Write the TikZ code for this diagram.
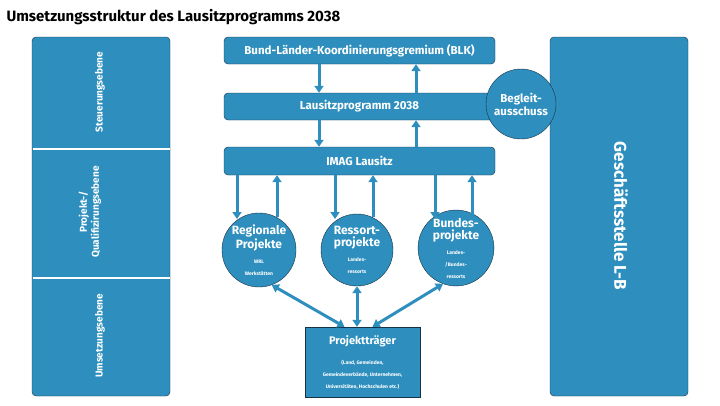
\documentclass[tikz,border=0pt]{standalone}
\usepackage{fontspec}
\setmainfont{Fira Sans}
\usetikzlibrary{shapes, arrows.meta}
\definecolor{lbblue}{RGB}{46,143,190}
\definecolor{lbdark}{RGB}{22,50,70}
\newcommand{\bigtxt}{\fontsize{12}{13}\selectfont}
\newcommand{\tinytxt}{\fontsize{5}{6}\selectfont}
\tikzset{
  block/.style={rectangle, rounded corners=4pt, draw=lbdark, fill=lbblue, text=white, font=\bfseries, inner sep=0pt},
  ring/.style={circle, draw=lbdark, fill=lbblue, text=white, font=\bfseries, align=center, inner sep=0pt},
  flow/.style={draw=lbblue, line width=3pt, -{Triangle[length=7pt,width=9pt]}},
  both/.style={draw=lbblue, line width=3pt, {Triangle[length=7pt,width=9pt]}-{Triangle[length=7pt,width=9pt]}}
}
\begin{document}
\begin{tikzpicture}[x=1pt, y=-1pt]
		\useasboundingbox (0,0) rectangle (720,405);
		\node[anchor=west, font=\bfseries\fontsize{15}{17}\selectfont] (title) at (3,17) {Umsetzungsstruktur des Lausitzprogramms 2038};
		% left column with levels
		\node[block, minimum width=138pt, minimum height=359pt] (levels) at (101,216.5) {};
		\draw[white, line width=2pt] (32.5,149) -- (169.5,149);
		\draw[white, line width=2pt] (32.5,278) -- (169.5,278);
		\node[rotate=90, text=white, font=\bfseries\fontsize{10}{12}\selectfont] (steuer) at (100,92) {Steuerungsebene};
		\node[rotate=90, text=white, align=center, font=\bfseries\fontsize{10}{12}\selectfont] (quali) at (90,212) {Projekt-/\\Qualifizirungsebene};
		\node[rotate=90, text=white, font=\bfseries\fontsize{10}{12}\selectfont] (umsetz) at (100,336) {Umsetzungsebene};
		% right column
		\node[block, minimum width=138pt, minimum height=359pt] (gs) at (619,216.5) {};
		\node[rotate=-90, text=white, font=\bfseries\fontsize{17}{20}\selectfont] (gstext) at (621,216) {Geschäftsstelle L-B};
		% main blocks
		\node[block, minimum width=271pt, minimum height=27pt, font=\bfseries\fontsize{11.5}{13}\selectfont] (blk) at (359.5,50.5) {Bund-Länder-Koordinierungsgremium (BLK)};
		\node[block, minimum width=271pt, minimum height=27pt, font=\bfseries\fontsize{11.5}{13}\selectfont] (lp) at (359.5,106.5) {Lausitzprogramm 2038};
		\node[block, minimum width=271pt, minimum height=28pt, font=\bfseries\fontsize{11.5}{13}\selectfont] (imag) at (359.5,161) {IMAG Lausitz};
		\node[ring, minimum size=70pt, font=\bfseries\fontsize{11.5}{13}\selectfont] (begleit) at (521,104) {Begleit-\\ausschuss};
		% circles
		\node[ring, minimum size=72pt] (regio) at (259,250) {\bigtxt Regionale\\\bigtxt Projekte\\[3pt]\tinytxt WRL\\\tinytxt Werkstätten};
		\node[ring, minimum size=72pt] (ressort) at (357,250) {\bigtxt Ressort-\\\bigtxt projekte\\[3pt]\tinytxt Landes-\\\tinytxt ressorts};
		\node[ring, minimum size=72pt] (bundes) at (456,248) {\bigtxt Bundes-\\\bigtxt projekte\\[3pt]\tinytxt Landes-\\\tinytxt /Bundes-\\\tinytxt ressorts};
		\node[rectangle, draw=lbdark, fill=lbblue, text=white, font=\bfseries, align=center, minimum width=115pt, minimum height=70pt] (pt) at (362.5,362) {\fontsize{11}{13}\selectfont Projektträger\\[8pt]\tinytxt (Land, Gemeinden,\\\tinytxt Gemeindeverbände, Unternehmen,\\\tinytxt Universitäten, Hochschulen etc.)};
		% arrows
		\draw[flow] (blk.south -| 319,0) -- (lp.north -| 319,0);
		\draw[flow] (lp.north -| 416,0) -- (blk.south -| 416,0);
		\draw[flow] (lp.south -| 319,0) -- (imag.north -| 319,0);
		\draw[flow] (imag.north -| 416,0) -- (lp.south -| 416,0);
		\foreach \dn/\up in {237/277, 335/373, 435/472} {
			\draw[flow] (imag.south -| \dn,0) -- (\dn,219);
			\draw[flow] (\up,217) -- (imag.south -| \up,0);
		}
		\draw[both] (regio.-70) -- ([xshift=-18pt]pt.north);
		\draw[both] (ressort.south) -- (ressort.south |- pt.north);
		\draw[both] (bundes.-110) -- ([xshift=10pt]pt.north);
	\end{tikzpicture}
\end{document}
